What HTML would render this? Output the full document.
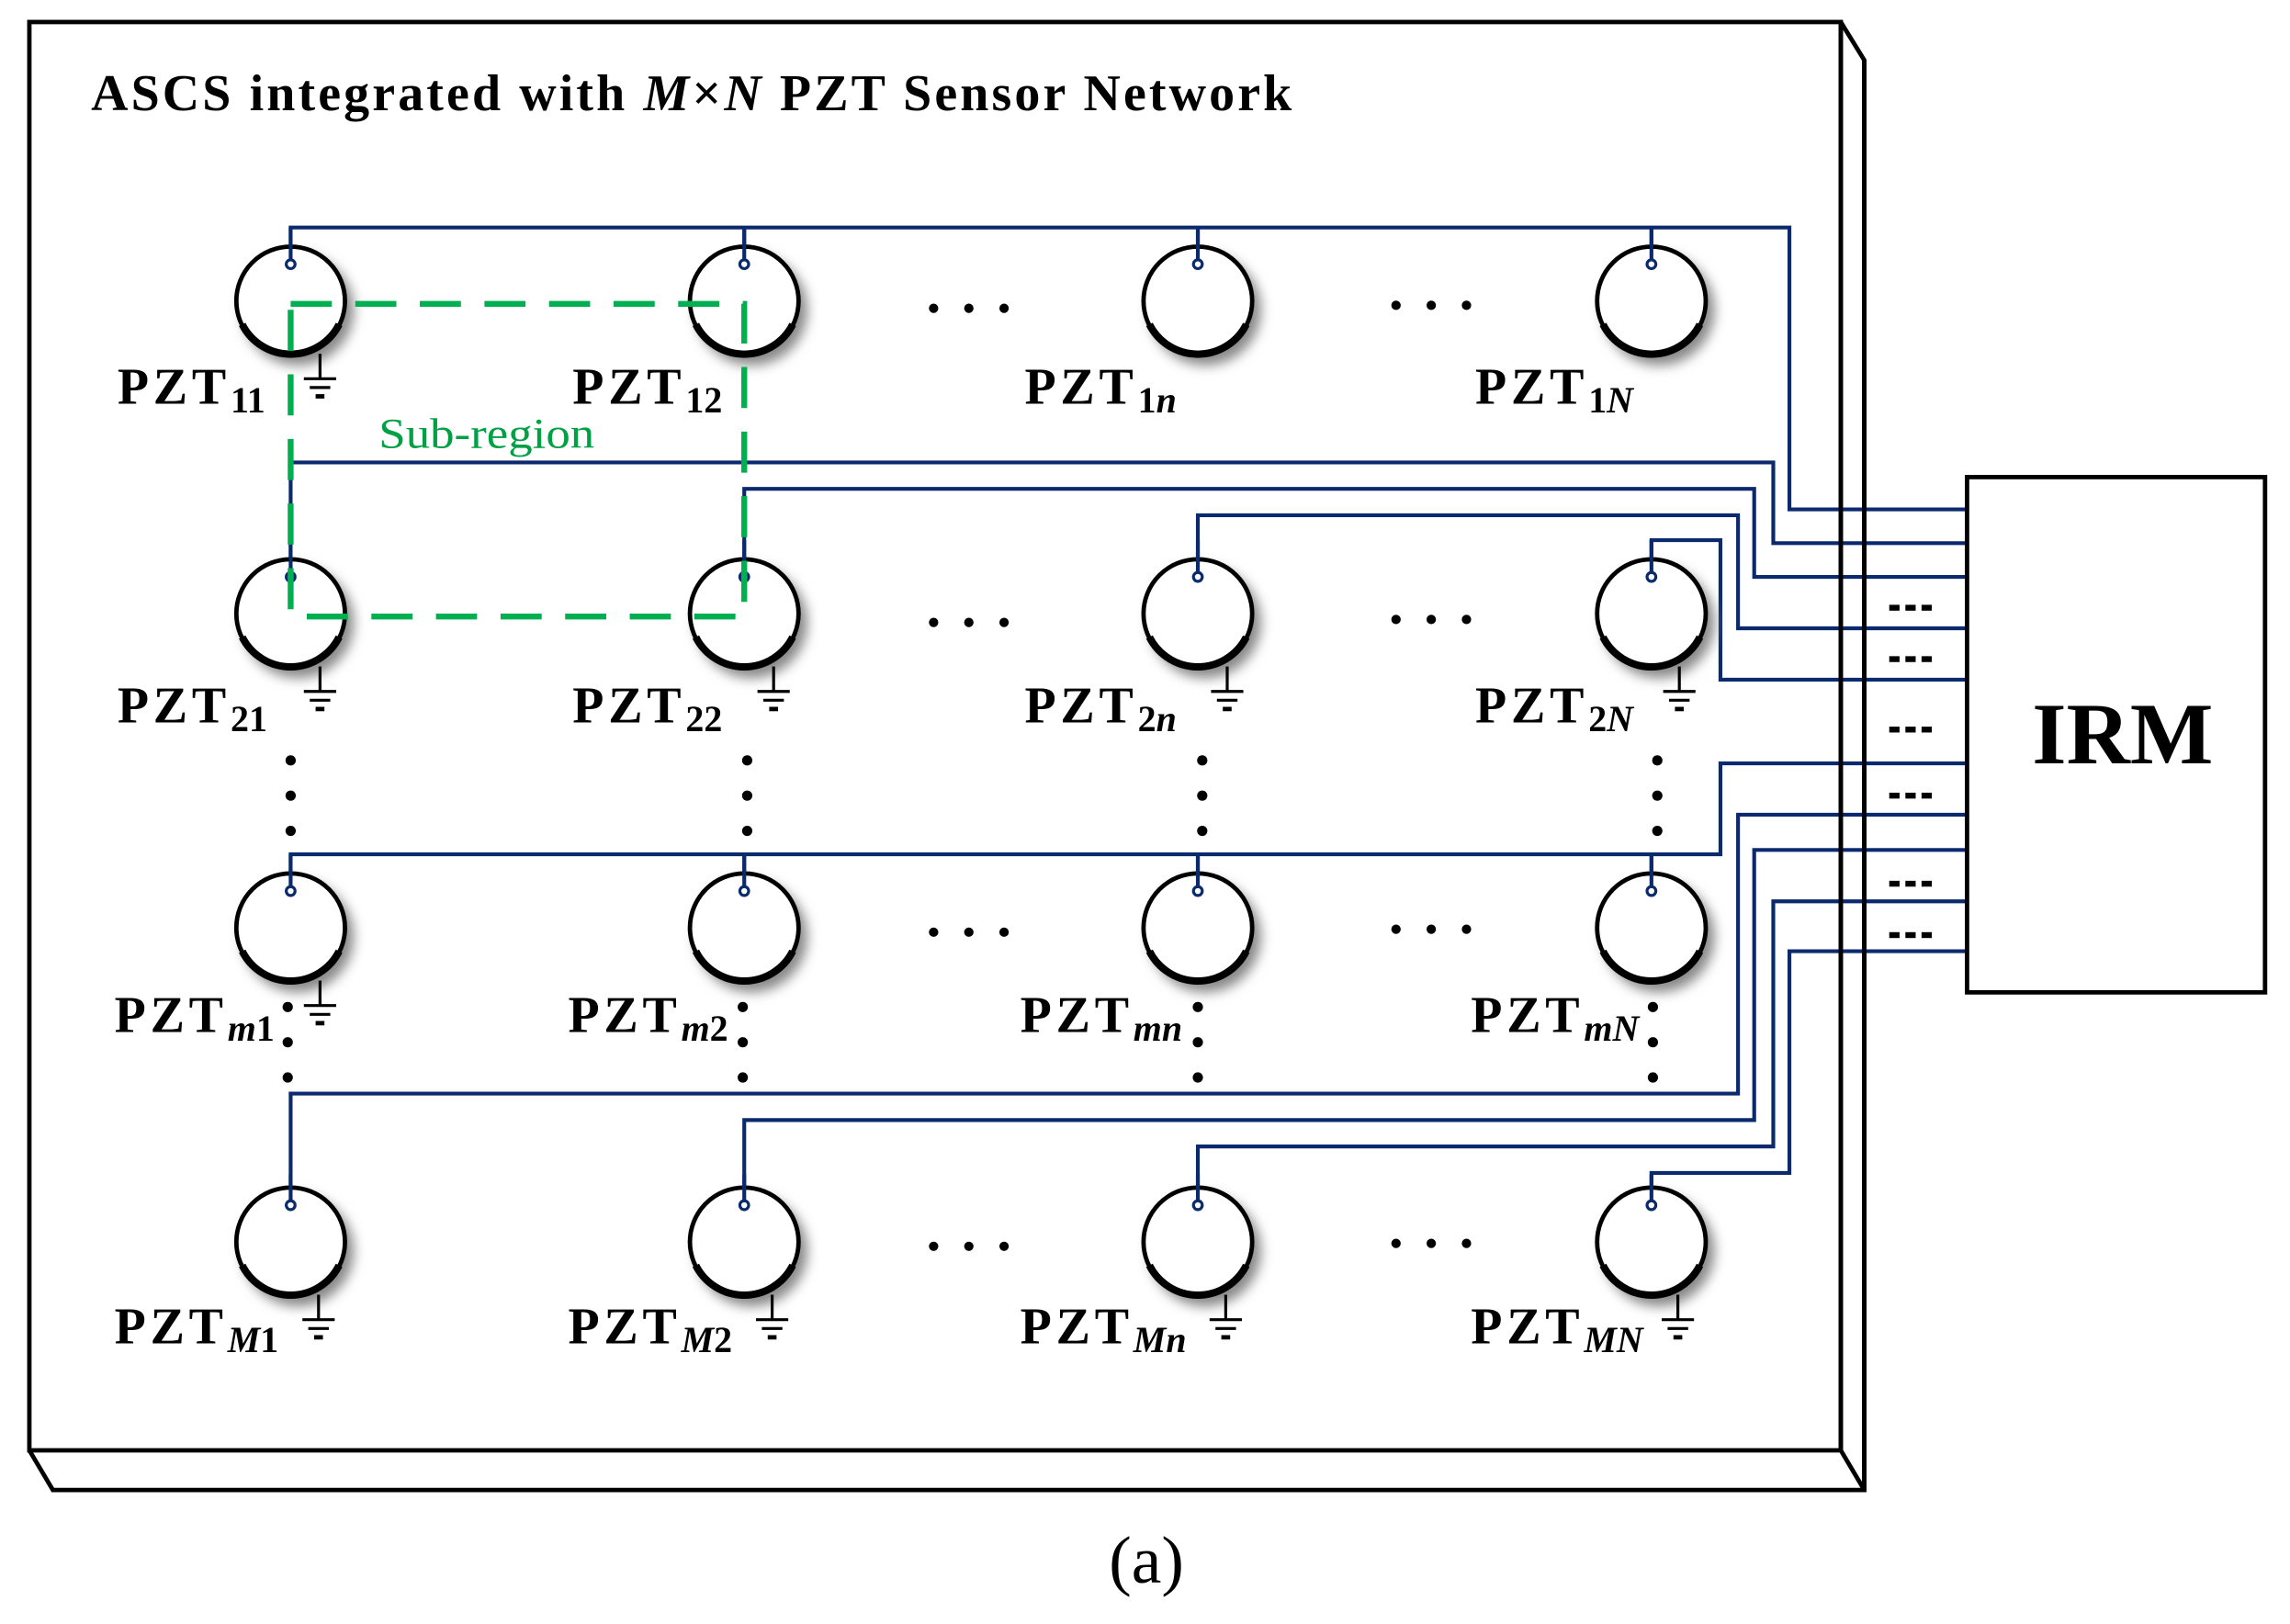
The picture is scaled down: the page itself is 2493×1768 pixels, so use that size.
<!DOCTYPE html>
<html><head><meta charset="utf-8"><style>
html,body{margin:0;padding:0;background:#fff;}
svg{display:block;}
text{font-family:"Liberation Serif",serif;}
</style></head><body>
<svg width="2493" height="1768" viewBox="0 0 1560 1106.3" preserveAspectRatio="none" xmlns="http://www.w3.org/2000/svg">
<defs>
<filter id="bl" x="-50%" y="-50%" width="200%" height="200%"><feGaussianBlur stdDeviation="4"/></filter>
<g id="pzt">
<ellipse cx="5" cy="6" rx="38" ry="38" fill="#888" filter="url(#bl)"/>
<ellipse cx="0" cy="0" rx="37" ry="37" fill="#fff" stroke="#000" stroke-width="3"/>
<path d="M-33,16 A37,37 0 0 0 33,16" fill="none" stroke="#000" stroke-width="5"/>
</g>
<g id="gnd" stroke="#000" stroke-width="2">
<line x1="0" y1="36" x2="0" y2="53"/>
<line x1="-11" y1="53" x2="11" y2="53"/>
<line x1="-7" y1="59" x2="7" y2="59"/>
<line x1="-3" y1="65" x2="3" y2="65" stroke-width="3"/>
</g>
<g id="dsh" fill="#000"><rect x="0" y="-2" width="7" height="4"/><rect x="11" y="-2" width="7" height="4"/><rect x="22" y="-2" width="7" height="4"/></g>
</defs>

<g fill="none" stroke="#000" stroke-width="3">
<rect x="20" y="15" width="1234" height="973" fill="#fff"/>
<path d="M1254,15 L1270,41 L1270,1015 L36,1015 L20,988"/>
<path d="M1254,988 L1270,1015"/>
</g>

<text x="62" y="75" font-size="35" font-weight="bold" textLength="818" lengthAdjust="spacing">ASCS integrated with <tspan font-style="italic">M</tspan>×<tspan font-style="italic">N</tspan> PZT Sensor Network</text>

<g fill="none" stroke="#0b2a6e" stroke-width="2.6">
<path d="M198,180 V155 H1219 V347 H1340"/>
<path d="M507,180 V155 M816,180 V155 M1125,180 V155"/>
<path d="M1340,370 H1208 V315 H198 V393"/>
<path d="M1340,393 H1195 V333 H507 V393"/>
<path d="M1340,428 H1184 V351 H816 V393"/>
<path d="M1340,463 H1172 V368 H1125 V393"/>
<path d="M1340,520 H1172 V582 H198 V607"/>
<path d="M507,582 V607 M816,582 V607 M1125,582 V607"/>
<path d="M1340,555 H1184 V745 H198 V820"/>
<path d="M1340,579 H1195 V763 H507 V820"/>
<path d="M1340,614 H1208 V781 H816 V820"/>
<path d="M1340,648 H1219 V799 H1125 V820"/>
</g>
<g fill="none" stroke="#000" stroke-width="3">
<line x1="1254" y1="15" x2="1254" y2="988"/>
<line x1="1270" y1="41" x2="1270" y2="1015"/>
</g>

<rect x="1340" y="325" width="203" height="351" fill="#fff" stroke="#000" stroke-width="3"/>
<text x="1446" y="520" font-size="60" font-weight="bold" text-anchor="middle">IRM</text>
<use href="#dsh" x="1287" y="414"/>
<use href="#dsh" x="1287" y="449"/>
<use href="#dsh" x="1287" y="497"/>
<use href="#dsh" x="1287" y="542"/>
<use href="#dsh" x="1287" y="602"/>
<use href="#dsh" x="1287" y="637"/>

<use href="#pzt" x="198" y="205"/><use href="#pzt" x="507" y="205"/><use href="#pzt" x="816" y="205"/><use href="#pzt" x="1125" y="205"/>
<use href="#pzt" x="198" y="418"/><use href="#pzt" x="507" y="418"/><use href="#pzt" x="816" y="418"/><use href="#pzt" x="1125" y="418"/>
<use href="#pzt" x="198" y="632"/><use href="#pzt" x="507" y="632"/><use href="#pzt" x="816" y="632"/><use href="#pzt" x="1125" y="632"/>
<use href="#pzt" x="198" y="846"/><use href="#pzt" x="507" y="846"/><use href="#pzt" x="816" y="846"/><use href="#pzt" x="1125" y="846"/>

<g fill="#fff" stroke="#0b2a6e" stroke-width="2">
<path d="M198,155 V178 M507,155 V178 M816,155 V178 M1125,155 V178 M198,368 V391 M507,368 V391 M816,368 V391 M1125,368 V391 M198,582 V605 M507,582 V605 M816,582 V605 M1125,582 V605 M198,800 V819 M507,800 V819 M816,800 V819 M1125,800 V819" stroke-width="2.6"/>
<circle cx="198" cy="180" r="3"/><circle cx="507" cy="180" r="3"/><circle cx="816" cy="180" r="3"/><circle cx="1125" cy="180" r="3"/>
<circle cx="198" cy="393" r="3"/><circle cx="507" cy="393" r="3"/><circle cx="816" cy="393" r="3"/><circle cx="1125" cy="393" r="3"/>
<circle cx="198" cy="607" r="3"/><circle cx="507" cy="607" r="3"/><circle cx="816" cy="607" r="3"/><circle cx="1125" cy="607" r="3"/>
<circle cx="198" cy="821" r="3"/><circle cx="507" cy="821" r="3"/><circle cx="816" cy="821" r="3"/><circle cx="1125" cy="821" r="3"/>
</g>

<use href="#gnd" x="218" y="205"/>
<use href="#gnd" x="218" y="418"/><use href="#gnd" x="527" y="418"/><use href="#gnd" x="836" y="418"/><use href="#gnd" x="1144" y="418"/>
<use href="#gnd" x="218" y="632"/>
<use href="#gnd" x="217" y="846"/><use href="#gnd" x="526" y="846"/><use href="#gnd" x="835" y="846"/><use href="#gnd" x="1143" y="846"/>

<rect x="198" y="207" width="309" height="213" fill="none" stroke="#00b050" stroke-width="4" stroke-dasharray="28,16"/>
<text x="258" y="305" font-size="29" fill="#00a045" textLength="147" lengthAdjust="spacingAndGlyphs">Sub-region</text>

<g fill="#000">
<circle cx="636" cy="210" r="3.2"/><circle cx="660" cy="210" r="3.2"/><circle cx="684" cy="210" r="3.2"/>
<circle cx="951" cy="208" r="3.2"/><circle cx="975" cy="208" r="3.2"/><circle cx="999" cy="208" r="3.2"/>
<circle cx="636" cy="424" r="3.2"/><circle cx="660" cy="424" r="3.2"/><circle cx="684" cy="424" r="3.2"/>
<circle cx="951" cy="422" r="3.2"/><circle cx="975" cy="422" r="3.2"/><circle cx="999" cy="422" r="3.2"/>
<circle cx="636" cy="635" r="3.2"/><circle cx="660" cy="635" r="3.2"/><circle cx="684" cy="635" r="3.2"/>
<circle cx="951" cy="633" r="3.2"/><circle cx="975" cy="633" r="3.2"/><circle cx="999" cy="633" r="3.2"/>
<circle cx="636" cy="849" r="3.2"/><circle cx="660" cy="849" r="3.2"/><circle cx="684" cy="849" r="3.2"/>
<circle cx="951" cy="847" r="3.2"/><circle cx="975" cy="847" r="3.2"/><circle cx="999" cy="847" r="3.2"/>
<circle cx="198" cy="518" r="3.5"/><circle cx="198" cy="542" r="3.5"/><circle cx="198" cy="566" r="3.5"/>
<circle cx="509" cy="518" r="3.5"/><circle cx="509" cy="542" r="3.5"/><circle cx="509" cy="566" r="3.5"/>
<circle cx="819" cy="518" r="3.5"/><circle cx="819" cy="542" r="3.5"/><circle cx="819" cy="566" r="3.5"/>
<circle cx="1129" cy="518" r="3.5"/><circle cx="1129" cy="542" r="3.5"/><circle cx="1129" cy="566" r="3.5"/>
<circle cx="196" cy="686" r="3.5"/><circle cx="196" cy="710" r="3.5"/><circle cx="196" cy="734" r="3.5"/>
<circle cx="506" cy="686" r="3.5"/><circle cx="506" cy="710" r="3.5"/><circle cx="506" cy="734" r="3.5"/>
<circle cx="816" cy="686" r="3.5"/><circle cx="816" cy="710" r="3.5"/><circle cx="816" cy="734" r="3.5"/>
<circle cx="1126" cy="686" r="3.5"/><circle cx="1126" cy="710" r="3.5"/><circle cx="1126" cy="734" r="3.5"/>
</g>

<g font-size="35" font-weight="bold" letter-spacing="3">
<text x="80" y="275">PZT<tspan font-size="25" dy="6" letter-spacing="0">11</tspan></text>
<text x="390" y="275">PZT<tspan font-size="25" dy="6" letter-spacing="0">12</tspan></text>
<text x="698" y="275">PZT<tspan font-size="25" dy="6" letter-spacing="0">1<tspan font-style="italic">n</tspan></tspan></text>
<text x="1005" y="275">PZT<tspan font-size="25" dy="6" letter-spacing="0">1<tspan font-style="italic">N</tspan></tspan></text>
<text x="80" y="492">PZT<tspan font-size="25" dy="6" letter-spacing="0">21</tspan></text>
<text x="390" y="492">PZT<tspan font-size="25" dy="6" letter-spacing="0">22</tspan></text>
<text x="698" y="492">PZT<tspan font-size="25" dy="6" letter-spacing="0">2<tspan font-style="italic">n</tspan></tspan></text>
<text x="1005" y="492">PZT<tspan font-size="25" dy="6" letter-spacing="0">2<tspan font-style="italic">N</tspan></tspan></text>
<text x="78" y="703">PZT<tspan font-size="25" dy="6" letter-spacing="0"><tspan font-style="italic">m</tspan>1</tspan></text>
<text x="387" y="703">PZT<tspan font-size="25" dy="6" letter-spacing="0"><tspan font-style="italic">m</tspan>2</tspan></text>
<text x="695" y="703">PZT<tspan font-size="25" dy="6" letter-spacing="0" font-style="italic">mn</tspan></text>
<text x="1002" y="703">PZT<tspan font-size="25" dy="6" letter-spacing="0" font-style="italic">mN</tspan></text>
<text x="78" y="915">PZT<tspan font-size="25" dy="6" letter-spacing="0"><tspan font-style="italic">M</tspan>1</tspan></text>
<text x="387" y="915">PZT<tspan font-size="25" dy="6" letter-spacing="0"><tspan font-style="italic">M</tspan>2</tspan></text>
<text x="695" y="915">PZT<tspan font-size="25" dy="6" letter-spacing="0" font-style="italic">Mn</tspan></text>
<text x="1002" y="915">PZT<tspan font-size="25" dy="6" letter-spacing="0" font-style="italic">MN</tspan></text>
</g>

<text x="781" y="1078" font-size="46" text-anchor="middle">(a)</text>
</svg>
</body></html>
